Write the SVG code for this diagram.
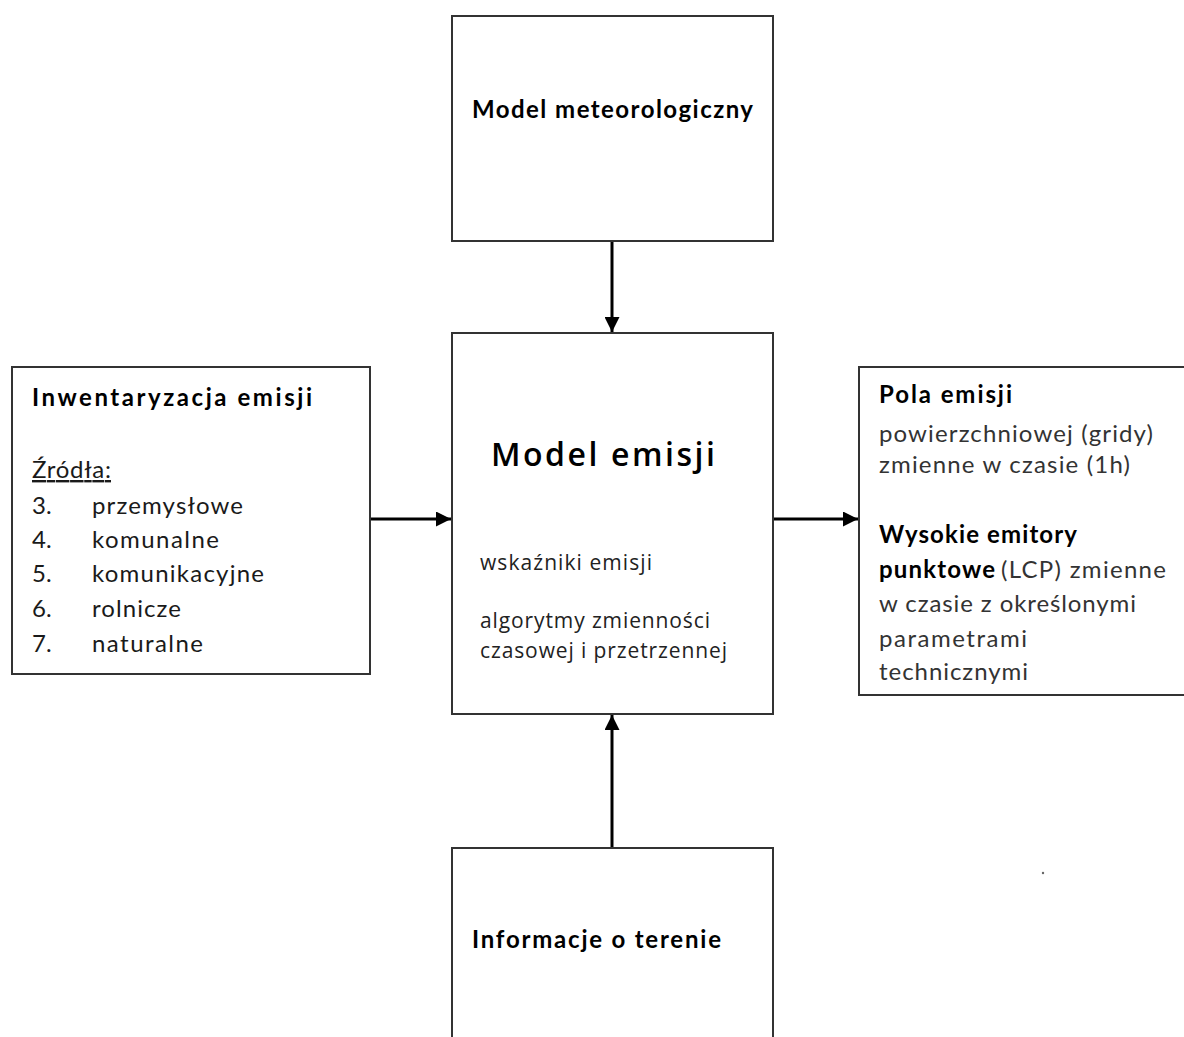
<svg xmlns="http://www.w3.org/2000/svg" width="1184" height="1037" viewBox="0 0 1184 1037">
<defs>
<marker id="arr" viewBox="0 0 10 10" refX="10" refY="5" markerWidth="5" markerHeight="5" markerUnits="strokeWidth" orient="auto">
<path d="M0,0 L10,5 L0,10 z" fill="#000"/>
</marker>
<style>
.box{fill:#fff;stroke:#333;stroke-width:2}
.con{stroke:#000;stroke-width:3;fill:none;marker-end:url(#arr)}
.t{font-family:Lato,"Open Sans","Liberation Sans",sans-serif;font-size:24px;fill:#1a1a1a}
.b{font-weight:bold;fill:#000}
.c{font-family:"Open Sans",Roboto,"Liberation Sans",sans-serif;font-size:21px;fill:#222}
.big{font-size:32px;font-weight:600;fill:#000}
.g{fill:#333}
</style>
</defs>
<rect width="1184" height="1037" fill="#fff"/>
<g id="connectors">
<line class="con" x1="612" y1="241" x2="612" y2="332"/>
<line class="con" x1="612" y1="848" x2="612" y2="715"/>
<line class="con" x1="370" y1="519" x2="451" y2="519"/>
<line class="con" x1="773" y1="519" x2="858" y2="519"/>
</g>
<g id="meteo">
<rect class="box" x="452" y="16" width="321" height="225"/>
<text class="t b" x="472" y="118" textLength="281" lengthAdjust="spacing">Model  meteorologiczny</text>
</g>
<g id="emisja">
<rect class="box" x="452" y="333" width="321" height="381"/>
<text class="c big" x="491" y="466" textLength="224" lengthAdjust="spacing">Model  emisji</text>
<text class="c" x="480" y="570" textLength="172" lengthAdjust="spacing">wskaźniki emisji</text>
<text class="c" x="480" y="628" textLength="230" lengthAdjust="spacing">algorytmy zmienności</text>
<text class="c" x="480" y="658" textLength="247" lengthAdjust="spacing">czasowej i przetrzennej</text>
</g>
<g id="inwentaryzacja">
<rect class="box" x="12" y="367" width="358" height="307"/>
<text class="t b" x="32" y="406" textLength="280" lengthAdjust="spacing">Inwentaryzacja  emisji</text>
<text class="t" x="32" y="478" textLength="79" lengthAdjust="spacing" text-decoration="underline">Źródła:</text>
<text class="t" x="32" y="514">3.</text><text class="t" x="92" y="514" textLength="151" lengthAdjust="spacing">przemysłowe</text>
<text class="t" x="32" y="548">4.</text><text class="t" x="92" y="548" textLength="127" lengthAdjust="spacing">komunalne</text>
<text class="t" x="32" y="582">5.</text><text class="t" x="92" y="582" textLength="172" lengthAdjust="spacing">komunikacyjne</text>
<text class="t" x="32" y="617">6.</text><text class="t" x="92" y="617" textLength="89" lengthAdjust="spacing">rolnicze</text>
<text class="t" x="32" y="652">7.</text><text class="t" x="92" y="652" textLength="111" lengthAdjust="spacing">naturalne</text>
</g>
<g id="pola">
<rect class="box" x="859" y="367" width="330" height="328"/>
<text class="t b" x="879" y="403" textLength="133" lengthAdjust="spacing">Pola  emisji</text>
<text class="t g" x="879" y="442" textLength="274" lengthAdjust="spacing">powierzchniowej (gridy)</text>
<text class="t g" x="879" y="473" textLength="251" lengthAdjust="spacing">zmienne w czasie (1h)</text>
<text class="t b" x="879" y="543" textLength="198" lengthAdjust="spacing">Wysokie emitory</text>
<text class="t g" x="879" y="578"><tspan class="b" textLength="116" lengthAdjust="spacing">punktowe</tspan><tspan x="1001" textLength="165" lengthAdjust="spacing">(LCP) zmienne</tspan></text>
<text class="t g" x="879" y="612" textLength="257" lengthAdjust="spacing">w czasie z określonymi</text>
<text class="t g" x="879" y="647" textLength="148" lengthAdjust="spacing">parametrami</text>
<text class="t g" x="879" y="680" textLength="149" lengthAdjust="spacing">technicznymi</text>
</g>
<g id="teren">
<rect class="box" x="452" y="848" width="321" height="200"/>
<text class="t b" x="472" y="948" textLength="249" lengthAdjust="spacing">Informacje  o  terenie</text>
</g>
<circle cx="1043" cy="873" r="1.2" fill="#666"/>
</svg>
